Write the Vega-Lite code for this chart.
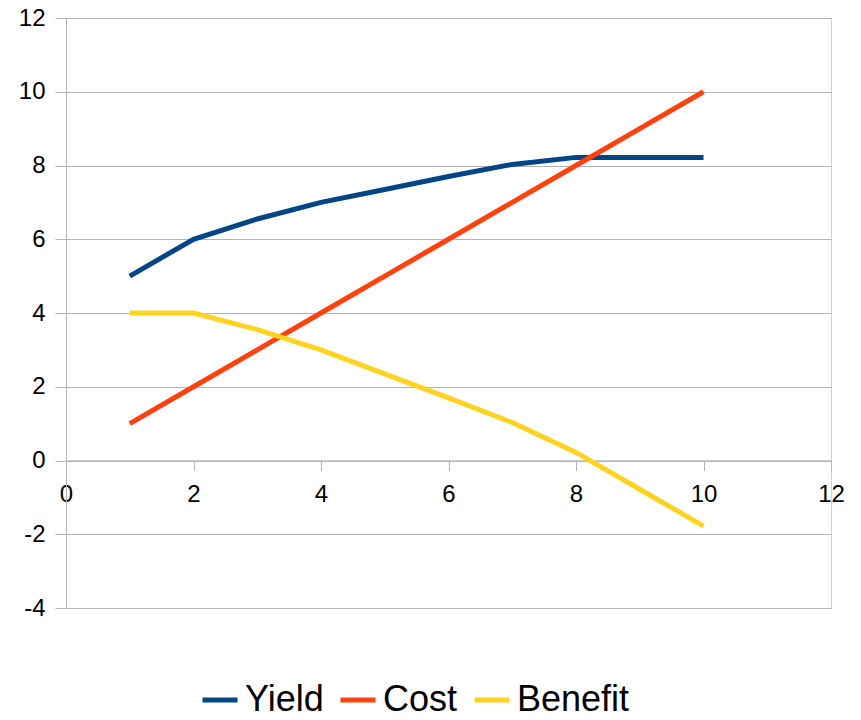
{
  "$schema": "https://vega.github.io/schema/vega-lite/v6.json",
  "autosize": {"type": "none"},
  "width": 765,
  "height": 590,
  "padding": {"left": 66, "top": 18, "right": 30, "bottom": 112},
  "background": "white",
  "config": {
    "font": "Liberation Sans",
    "view": {"stroke": "#d0d0d0", "strokeWidth": 1},
    "axis": {"labelFont": "Liberation Sans", "labelColor": "#000000", "labelFontSize": 24}
  },
  "data": {
    "values": [
      {"series": "Yield", "x": 1, "y": 5},
      {"series": "Yield", "x": 2, "y": 6},
      {"series": "Yield", "x": 3, "y": 6.55},
      {"series": "Yield", "x": 4, "y": 7},
      {"series": "Yield", "x": 5, "y": 7.35},
      {"series": "Yield", "x": 6, "y": 7.7},
      {"series": "Yield", "x": 7, "y": 8.03},
      {"series": "Yield", "x": 8, "y": 8.22},
      {"series": "Yield", "x": 9, "y": 8.22},
      {"series": "Yield", "x": 10, "y": 8.22},
      {"series": "Cost", "x": 1, "y": 1},
      {"series": "Cost", "x": 2, "y": 2},
      {"series": "Cost", "x": 3, "y": 3},
      {"series": "Cost", "x": 4, "y": 4},
      {"series": "Cost", "x": 5, "y": 5},
      {"series": "Cost", "x": 6, "y": 6},
      {"series": "Cost", "x": 7, "y": 7},
      {"series": "Cost", "x": 8, "y": 8},
      {"series": "Cost", "x": 9, "y": 9},
      {"series": "Cost", "x": 10, "y": 10},
      {"series": "Benefit", "x": 1, "y": 4},
      {"series": "Benefit", "x": 2, "y": 4},
      {"series": "Benefit", "x": 3, "y": 3.55},
      {"series": "Benefit", "x": 4, "y": 3},
      {"series": "Benefit", "x": 5, "y": 2.35},
      {"series": "Benefit", "x": 6, "y": 1.7},
      {"series": "Benefit", "x": 7, "y": 1.03},
      {"series": "Benefit", "x": 8, "y": 0.22},
      {"series": "Benefit", "x": 9, "y": -0.78},
      {"series": "Benefit", "x": 10, "y": -1.78}
    ]
  },
  "mark": {"type": "line", "strokeWidth": 5, "strokeCap": "butt", "strokeJoin": "miter"},
  "encoding": {
    "x": {
      "field": "x",
      "type": "quantitative",
      "scale": {"domain": [0, 12], "nice": false, "zero": false},
      "axis": {
        "title": null,
        "values": [0, 2, 4, 6, 8, 10, 12],
        "grid": false,
        "offset": -147.6,
        "domainColor": "#b3b3b3",
        "tickColor": "#b3b3b3",
        "tickSize": 10,
        "labelPadding": 12,
        "labelFlush": false,
        "labelOverlap": false
      }
    },
    "y": {
      "field": "y",
      "type": "quantitative",
      "scale": {"domain": [-4, 12], "nice": false, "zero": false},
      "axis": {
        "title": null,
        "values": [-4, -2, 0, 2, 4, 6, 8, 10, 12],
        "labelExpr": "replace(datum.label, '\u2212', '-')",
        "grid": true,
        "gridColor": "#b3b3b3",
        "gridOpacity": 1,
        "domainColor": "#b3b3b3",
        "tickColor": "#b3b3b3",
        "tickSize": 11,
        "labelPadding": 10,
        "labelFlush": false,
        "labelOverlap": false
      }
    },
    "color": {
      "field": "series",
      "type": "nominal",
      "sort": ["Yield", "Cost", "Benefit"],
      "scale": {"domain": ["Yield", "Cost", "Benefit"], "range": ["#004586", "#ff420e", "#ffd320"]},
      "legend": {
        "title": null,
        "orient": "none",
        "direction": "horizontal",
        "legendX": 134,
        "legendY": 662,
        "symbolType": "stroke",
        "symbolSize": 1225,
        "symbolStrokeWidth": 5,
        "labelFontSize": 36,
        "labelFont": "Liberation Sans",
        "labelColor": "#000000",
        "labelOffset": 5,
        "columnPadding": 6,
        "labelLimit": 300
      }
    },
    "order": {"field": "x", "type": "quantitative"}
  }
}
